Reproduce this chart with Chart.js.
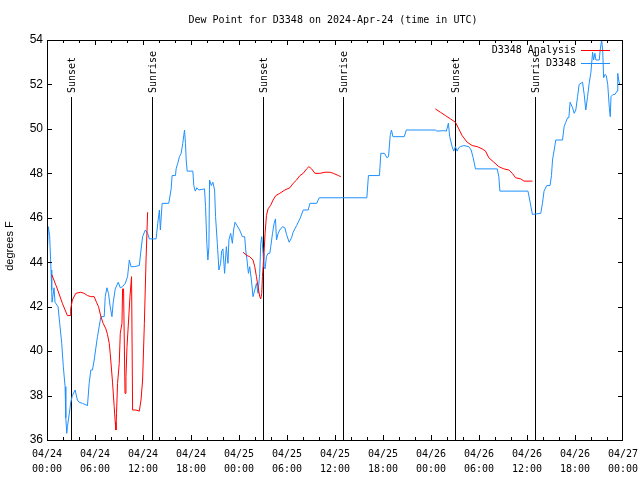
<!DOCTYPE html>
<html>
<head>
<meta charset="utf-8">
<script src="https://cdn.jsdelivr.net/npm/chart.js@4.4.1/dist/chart.umd.min.js"></script>
<style>
  html, body { margin: 0; padding: 0; background: #fff; }
  canvas { display: block; }
</style>
</head>
<body>
<canvas id="dewChart" width="640" height="480"></canvas>
<script>
// hours since 2024-04-24 00:00 UTC
const obsHours = [0.0, 0.16, 0.33, 0.5, 0.59, 0.63, 0.88, 1.0, 1.38, 1.59, 1.84, 2.04, 2.26, 2.35, 2.47, 2.55, 2.67, 2.85, 2.97, 3.17,
  3.51, 3.8, 4.01, 4.43, 5.06, 5.27, 5.48, 5.68, 5.9, 6.11, 6.31, 6.52, 6.74, 7.15, 7.28, 7.49, 7.69, 7.9, 8.12, 8.28,
  8.53, 8.91, 9.16, 9.45, 9.78, 10.07, 10.29, 10.5, 10.91, 11.54, 11.75, 11.95, 12.29, 12.58, 12.79, 13.64, 13.84, 14.05, 14.17, 14.39,
  15.22, 15.52, 15.64, 16.06, 16.14, 16.34, 16.56, 16.77, 16.97, 17.19, 17.31, 17.4, 17.52, 18.23, 18.35, 18.53, 18.73, 18.98, 19.69, 19.82,
  19.98, 20.11, 20.24, 20.32, 20.54, 20.74, 20.95, 21.07, 21.29, 21.49, 21.7, 21.83, 21.99, 22.2, 22.42, 22.62, 22.74, 22.96, 23.17, 23.33,
  23.5, 23.75, 24.08, 24.42, 24.71, 24.84, 25.0, 25.18, 25.34, 25.55, 25.75, 25.97, 26.18, 26.38, 26.59, 26.72, 26.84, 27.01, 27.1, 27.26,
  27.43, 27.63, 27.85, 27.97, 28.19, 28.39, 28.56, 28.69, 28.89, 29.1, 29.44, 29.73, 29.94, 30.27, 30.57, 30.77, 31.2, 31.61, 32.03, 32.65,
  32.87, 33.71, 34.03, 39.98, 40.18, 41.56, 41.73, 42.19, 42.49, 42.69, 42.9, 43.06, 43.24, 44.66, 44.91, 48.54, 48.75, 49.59, 49.92, 50.17,
  50.34, 50.64, 50.84, 51.05, 51.27, 51.47, 51.68, 52.1, 52.72, 53.02, 53.27, 53.56, 56.28, 56.48, 56.61, 60.12, 60.34, 60.67, 61.72, 61.93,
  62.13, 62.47, 62.88, 63.06, 63.19, 63.6, 64.44, 64.64, 64.85, 65.07, 65.23, 65.39, 65.48, 65.7, 65.9, 66.1, 66.32, 66.52, 66.94, 67.15,
  67.35, 67.57, 67.77, 67.99, 68.2, 68.32, 68.49, 68.61, 69.03, 69.15, 69.33, 69.46, 69.58, 69.75, 69.91, 70.09, 70.29, 70.41, 70.5, 70.75,
  71.0, 71.25, 71.34, 71.46, 71.59, 71.88];
const obsValues = [43.96, 45.6, 45.2, 43.65, 42.75, 42.2, 42.85, 42.2, 42.0, 41.25, 40.35, 39.3, 38.4, 37.0, 36.3, 36.6, 36.9, 37.35, 37.7, 38.0,
  38.25, 37.8, 37.7, 37.65, 37.55, 38.55, 39.15, 39.15, 39.6, 40.15, 40.65, 41.1, 41.55, 41.55, 42.45, 42.85, 42.6, 42.0, 41.55, 42.2,
  42.8, 43.1, 42.85, 42.9, 43.05, 43.35, 44.1, 43.8, 43.8, 43.85, 44.55, 45.15, 45.45, 45.3, 45.05, 45.05, 45.75, 46.35, 45.45, 46.65,
  46.65, 47.3, 47.9, 47.9, 48.2, 48.45, 48.75, 48.9, 49.35, 49.95, 49.35, 48.6, 48.1, 48.1, 47.45, 47.2, 47.35, 47.25, 47.3, 46.5,
  44.85, 44.1, 44.7, 47.7, 47.45, 47.6, 47.25, 46.05, 44.85, 43.65, 43.95, 44.5, 44.6, 43.5, 44.7, 43.95, 45.0, 45.3, 44.85, 45.45,
  45.8, 45.65, 45.45, 45.15, 45.15, 44.55, 44.1, 43.5, 43.8, 43.2, 42.45, 42.75, 43.05, 42.6, 43.5, 44.85, 45.15, 44.4, 43.8, 43.7,
  44.25, 44.4, 44.4, 44.7, 45.3, 45.75, 45.95, 45.0, 45.3, 45.45, 45.6, 45.55, 45.25, 44.9, 45.1, 45.35, 45.65, 45.95, 46.35, 46.35,
  46.65, 46.65, 46.9, 46.9, 47.9, 47.9, 48.9, 48.9, 48.7, 48.75, 49.7, 49.95, 49.65, 49.65, 49.95, 49.95, 49.9, 49.92, 49.9, 50.25,
  49.65, 49.2, 49.0, 49.2, 49.0, 49.15, 49.2, 49.25, 49.2, 49.05, 48.7, 48.2, 48.2, 47.85, 47.2, 47.2, 46.8, 46.15, 46.2, 46.65,
  47.2, 47.45, 47.45, 47.9, 48.6, 49.5, 49.5, 50.1, 50.3, 50.5, 50.5, 51.2, 51.2, 50.95, 50.7, 50.85, 51.45, 52.0, 52.1, 51.55,
  50.85, 51.45, 52.05, 52.55, 53.45, 53.1, 53.4, 53.1, 53.1, 53.55, 54.0, 53.55, 52.3, 52.45, 52.4, 52.0, 50.95, 50.55, 51.45, 51.55,
  51.55, 51.7, 52.5, 52.2, 52.0, 52.0];

// analysis series, null marks a break
const anaHours = [0.59, 1.29, 1.92, 2.55, 2.89, 2.97, 3.17, 3.6, 4.23, 4.64, 5.06, 5.48, 5.9, 6.18, 6.44, 6.74, 7.02, 7.36, 7.56, 7.78,
  7.9, 8.07, 8.19, 8.4, 8.53, 8.62, 8.69, 8.82, 9.03, 9.16, 9.37, 9.45, 9.57, 9.66, 9.75, 9.87, 10.0, 10.2, 10.37, 10.57,
  10.7, 11.12, 11.54, 11.75, 11.95, 12.17, 12.38, 12.58, 18.0,
  24.5, 25.0, 25.34, 25.75, 25.97, 26.18, 26.38, 26.59, 26.72, 26.84, 26.93, 27.1, 27.26, 27.43, 27.63, 27.94, 28.26, 28.6, 29.1, 29.73,
  30.36, 30.77, 31.2, 31.61, 32.03, 32.45, 32.74, 33.08, 33.49, 34.12, 34.75, 35.37, 35.79, 36.42, 36.72, 42.0,
  48.54, 49.17, 49.8, 50.43, 51.05, 51.47, 51.89, 52.52, 53.15, 53.78, 54.4, 54.82, 55.23, 55.86, 56.48, 57.11, 57.74, 58.16, 58.58, 59.21,
  59.62, 60.67];
const anaValues = [43.45, 42.8, 42.15, 41.6, 41.6, 41.9, 42.3, 42.6, 42.65, 42.6, 42.5, 42.45, 42.45, 42.2, 42.0, 41.55, 41.25, 41.0, 40.75, 40.35,
  39.9, 39.15, 38.6, 37.5, 36.8, 36.45, 37.2, 38.55, 39.45, 40.8, 41.25, 42.8, 42.8, 40.5, 38.1, 38.85, 40.2, 41.4, 42.45, 43.35,
  37.35, 37.35, 37.3, 37.8, 38.7, 41.25, 44.1, 46.25, null,
  44.45, 44.3, 44.25, 44.1, 43.8, 43.35, 42.9, 42.45, 42.35, 42.6, 43.35, 44.25, 45.3, 46.1, 46.4, 46.55, 46.8, 47.0, 47.1, 47.25,
  47.35, 47.55, 47.7, 47.9, 48.0, 48.2, 48.3, 48.2, 48.0, 48.0, 48.05, 48.05, 48.0, 47.9, 47.85, null,
  50.9, 50.75, 50.6, 50.45, 50.3, 50.0, 49.7, 49.4, 49.25, 49.2, 49.1, 49.0, 48.7, 48.5, 48.3, 48.2, 48.15, 48.0, 47.8, 47.75,
  47.65, 47.65];

const sunsetHours = [3.0, 27.0, 51.0];
const sunriseHours = [13.1, 37.0, 61.0];

const xTickHours = [0, 6, 12, 18, 24, 30, 36, 42, 48, 54, 60, 66, 72];
const xTickLabels = [['04/24', '00:00'], ['04/24', '06:00'], ['04/24', '12:00'], ['04/24', '18:00'],
  ['04/25', '00:00'], ['04/25', '06:00'], ['04/25', '12:00'], ['04/25', '18:00'],
  ['04/26', '00:00'], ['04/26', '06:00'], ['04/26', '12:00'], ['04/26', '18:00'], ['04/27', '00:00']];
const yTicks = [36, 38, 40, 42, 44, 46, 48, 50, 52, 54];

const titleText = 'Dew Point for D3348 on 2024-Apr-24 (time in UTC)';
const yTitle = 'degrees F';
const seriesNames = ['D3348 Analysis', 'D3348'];
const seriesColors = ['#ff0000', '#1e90ff'];

const MONO = '"DejaVu Sans Mono", "Liberation Mono", monospace';
const SANS = '"Liberation Sans", Arial, sans-serif';

const toPoints = (xs, ys) => xs.map((x, i) => ({ x: x, y: ys[i] }));

const decorPlugin = {
  id: 'decor',
  beforeDatasetsDraw(chart) {
    const { ctx, chartArea, scales } = chart;
    const xs = scales.x;
    ctx.save();
    ctx.strokeStyle = '#000';
    ctx.lineWidth = 1;
    ctx.fillStyle = '#000';
    ctx.font = '10px ' + MONO;
    const events = sunsetHours.map(h => [h, 'Sunset']).concat(sunriseHours.map(h => [h, 'Sunrise']));
    events.forEach(([h, label]) => {
      const px = Math.round(xs.getPixelForValue(h)) + 0.5;
      ctx.beginPath();
      ctx.moveTo(px, 97);
      ctx.lineTo(px, chartArea.bottom);
      ctx.stroke();
      ctx.save();
      ctx.translate(px + 1, 93);
      ctx.rotate(-Math.PI / 2);
      ctx.textAlign = 'left';
      ctx.textBaseline = 'middle';
      ctx.fillText(label, 0, 0);
      ctx.restore();
    });
    ctx.restore();
  },
  afterDraw(chart) {
    const { ctx, chartArea, scales } = chart;
    const xs = scales.x, ys = scales.y;
    const L = chartArea.left, R = chartArea.right, T = chartArea.top, B = chartArea.bottom;
    ctx.save();
    ctx.strokeStyle = '#000';
    ctx.lineWidth = 1;
    // frame
    ctx.strokeRect(L + 0.5, T + 0.5, R - L - 1, B - T);
    // x ticks every 2 hours, longer on labelled hours
    ctx.beginPath();
    for (let h = 2; h < 72; h += 2) {
      const px = Math.round(xs.getPixelForValue(h)) + 0.5;
      const len = h % 6 === 0 ? 5 : 3;
      ctx.moveTo(px, B); ctx.lineTo(px, B - len);
      ctx.moveTo(px, T); ctx.lineTo(px, T + len);
    }
    // y ticks
    yTicks.forEach(v => {
      const py = Math.round(ys.getPixelForValue(v)) + 0.5;
      ctx.moveTo(L, py); ctx.lineTo(L + 5, py);
      ctx.moveTo(R, py); ctx.lineTo(R - 5, py);
    });
    ctx.stroke();

    // title
    ctx.fillStyle = '#000';
    ctx.font = '10px ' + MONO;
    ctx.textAlign = 'center';
    ctx.textBaseline = 'middle';
    ctx.fillText(titleText, 333, 20);

    // y title
    ctx.save();
    ctx.translate(10, 246);
    ctx.rotate(-Math.PI / 2);
    ctx.font = '11px ' + SANS;
    ctx.textAlign = 'center';
    ctx.textBaseline = 'middle';
    ctx.fillText(yTitle, 0, 0);
    ctx.restore();

    // legend
    ctx.font = '10px ' + MONO;
    ctx.textAlign = 'right';
    ctx.textBaseline = 'middle';
    seriesNames.forEach((name, i) => {
      const y = 50 + i * 13;
      ctx.fillStyle = '#000';
      ctx.fillText(name, 576, y);
      ctx.strokeStyle = seriesColors[i];
      ctx.beginPath();
      ctx.moveTo(581, y + 0.5);
      ctx.lineTo(610, y + 0.5);
      ctx.stroke();
    });
    ctx.restore();
  }
};

new Chart(document.getElementById('dewChart').getContext('2d'), {
  type: 'line',
  data: {
    datasets: [{
      label: seriesNames[0],
      data: toPoints(anaHours, anaValues),
      borderColor: seriesColors[0],
      borderWidth: 1,
      pointRadius: 0,
      spanGaps: false,
      tension: 0
    }, {
      label: seriesNames[1],
      data: toPoints(obsHours, obsValues),
      borderColor: seriesColors[1],
      borderWidth: 1,
      pointRadius: 0,
      tension: 0
    }]
  },
  options: {
    responsive: false,
    animation: false,
    devicePixelRatio: 1,
    layout: { padding: { top: 40, right: 17, left: 0, bottom: 0 } },
    plugins: {
      legend: { display: false },
      title: { display: false },
      tooltip: { enabled: false }
    },
    scales: {
      x: {
        type: 'linear',
        min: 0,
        max: 72,
        afterBuildTicks: scale => { scale.ticks = xTickHours.map(v => ({ value: v })); },
        afterFit: scale => { scale.height = 40; scale.paddingLeft = 0; scale.paddingRight = 0; },
        grid: { display: false, drawTicks: false },
        border: { display: false },
        ticks: {
          autoSkip: false,
          maxRotation: 0,
          padding: 7,
          color: '#000',
          font: { family: MONO, size: 10, lineHeight: 1.5 },
          callback: v => xTickLabels[xTickHours.indexOf(v)]
        }
      },
      y: {
        min: 36,
        max: 54,
        afterBuildTicks: scale => { scale.ticks = yTicks.map(v => ({ value: v })); },
        afterFit: scale => { scale.width = 47; scale.paddingTop = 0; scale.paddingBottom = 0; },
        grid: { display: false, drawTicks: false },
        border: { display: false },
        ticks: {
          padding: 4,
          color: '#000',
          font: { family: SANS, size: 12 }
        }
      }
    }
  },
  plugins: [decorPlugin]
});
</script>
</body>
</html>
